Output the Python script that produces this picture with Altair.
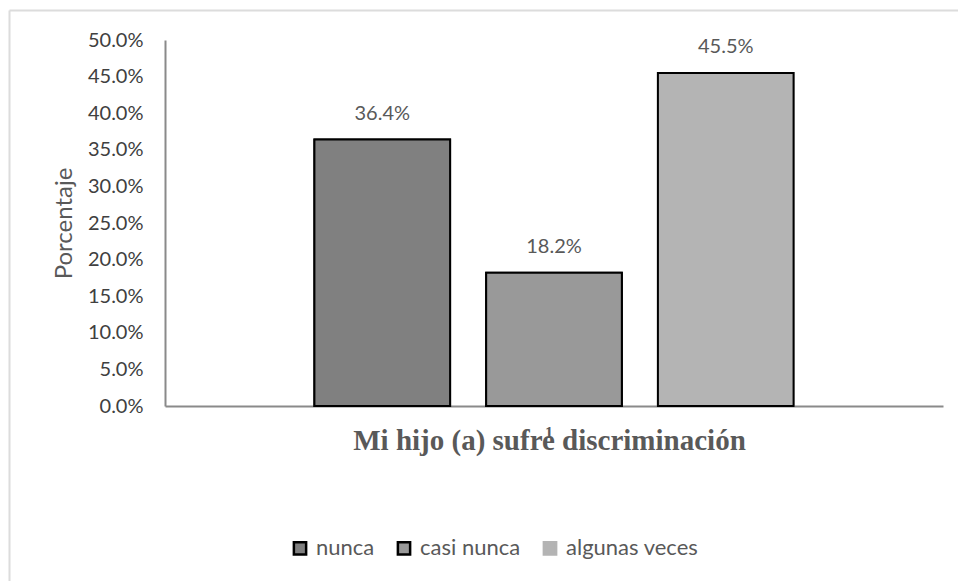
import altair as alt
import pandas as pd

# Respuestas y porcentajes
categorias = ["nunca", "casi nunca", "algunas veces"]
porcentajes = [0.364, 0.182, 0.455]
marcas_y = [0.0, 0.05, 0.10, 0.15, 0.20, 0.25, 0.30, 0.35, 0.40, 0.45, 0.50]

rellenos = ["#808080", "#999999", "#b4b4b4"]
bordes_leyenda = ["#000000", "#000000", "#b4b4b4"]
GRIS_TEXTO = "#595959"
GRIS_EJE = "#8a8a8a"

df = pd.DataFrame({"respuesta": categorias, "porcentaje": porcentajes})

leyenda = alt.Legend(
    title=None, orient="none", direction="horizontal",
    legendX=124, legendY=497, padding=0,
    symbolType="square", symbolSize=150, symbolStrokeWidth=2.5,
    labelFont="Lato", labelFontSize=22, labelColor=GRIS_TEXTO,
    labelOffset=5, columnPadding=17,
)

x = alt.X(
    "respuesta:N", sort=categorias,
    scale=alt.Scale(paddingInner=0.21, paddingOuter=0.87),
    axis=alt.Axis(
        title="Mi hijo (a) sufre discriminación", labels=False, ticks=False,
        domainColor=GRIS_EJE, domainWidth=2,
        titleFont="Liberation Serif", titleFontSize=29, titleFontWeight="bold",
        titleColor=GRIS_TEXTO, titlePadding=20, titleX=384, titleAlign="center",
    ),
)
y = alt.Y(
    "porcentaje:Q", scale=alt.Scale(domain=[0, 0.5]),
    axis=alt.Axis(
        title="Porcentaje", values=marcas_y, format=".1%", grid=False, ticks=False,
        domainColor=GRIS_EJE, domainWidth=2,
        labelFont="Lato", labelFontSize=20, labelColor="#404040", labelPadding=22,
        titleFont="Lato", titleFontSize=24, titleFontWeight="normal",
        titleColor=GRIS_TEXTO, titlePadding=11,
    ),
)
relleno = alt.Fill("respuesta:N", sort=categorias,
                   scale=alt.Scale(domain=categorias, range=rellenos), legend=leyenda)
borde = alt.Stroke("respuesta:N", sort=categorias,
                   scale=alt.Scale(domain=categorias, range=bordes_leyenda), legend=leyenda)

base = alt.Chart(df)

# capa inferior: define la leyenda (bordes negros salvo "algunas veces")
barras_leyenda = base.mark_bar(strokeWidth=2).encode(x=x, y=y, fill=relleno, stroke=borde)
# barras visibles con borde negro
barras = base.mark_bar(stroke="#000000", strokeWidth=2).encode(x=x, y=y, fill=relleno)

etiquetas = base.mark_text(
    dy=-26, font="Lato", fontSize=20, color=GRIS_TEXTO
).encode(x=x, y=y, text=alt.Text("porcentaje:Q", format=".1%"))

uno = pd.DataFrame({"t": ["1"]})
marca_uno = alt.Chart(uno).mark_text(
    font="Liberation Serif", fontSize=16, fontWeight="bold", color=GRIS_TEXTO
).encode(x=alt.value(384), y=alt.value(393), text="t:N")

marco = pd.DataFrame({"k": [0]})
borde_izq = alt.Chart(marco).mark_rule(color="#dcdcdc", strokeWidth=2).encode(
    x=alt.value(-155.5), y=alt.value(-29.5), y2=alt.value(541)
)
borde_sup = alt.Chart(marco).mark_rule(color="#dcdcdc", strokeWidth=2).encode(
    x=alt.value(-155.5), x2=alt.value(793), y=alt.value(-29.5)
)

chart = alt.layer(
    borde_izq, borde_sup, barras_leyenda, barras, etiquetas, marca_uno
).properties(
    width=778, height=366,
    autosize=alt.AutoSizeParams(type="none"),
    padding={"left": 165, "top": 40, "right": 15, "bottom": 175},
    background="#ffffff",
).configure_view(stroke=None)

chart.save("out.html", embed_options={"renderer": "svg", "actions": False})
